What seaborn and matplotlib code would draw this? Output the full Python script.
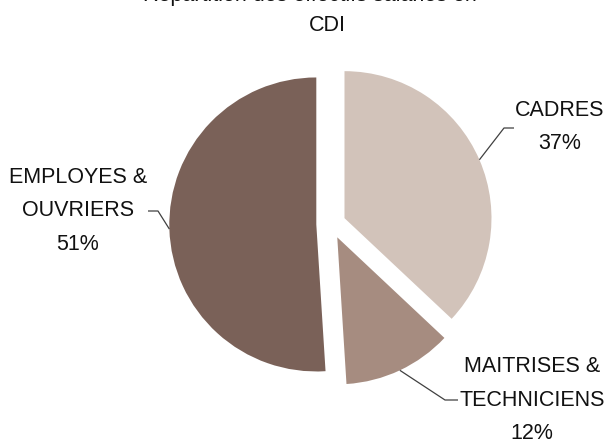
import numpy as np
import matplotlib
matplotlib.use("Agg")
import matplotlib.pyplot as plt
import seaborn as sns

categories = ["CADRES", "MAITRISES &\nTECHNICIENS", "EMPLOYES &\nOUVRIERS"]
shares = [37, 12, 51]
colors = ["#D2C3BA", "#A68C80", "#7A6158"]
title_lines = ["Répartition des effectifs salariés en", "CDI"]

sns.set_theme(style="white")
plt.rcParams["font.family"] = ["Liberation Sans Narrow", "Liberation Sans", "DejaVu Sans"]

W, H = 610, 444
fig = plt.figure(figsize=(W / 100, H / 100), dpi=100)
ax = fig.add_axes([0, 0, 1, 1])

# pixel geometry of the pie
cx, cy, rad = 331, 224, 147
explode = 0.10

wedges, _ = ax.pie(shares, colors=colors, startangle=90, counterclock=False,
                   explode=[explode] * len(shares), radius=1.0,
                   wedgeprops=dict(linewidth=0))
ax.set_xlim(-cx / rad, (W - cx) / rad)
ax.set_ylim(-(H - cy) / rad, cy / rad)
ax.set_aspect("auto")
ax.axis("off")


def px(x, y):
    return (x - cx) / rad, (cy - y) / rad


# label text positions (pixel) and leader elbows
label_pos = [(560, 127), (532, 400), (78, 211)]
elbows = [((504, 128), (514, 128)), ((445, 400), (458, 400)), ((158, 211), (148, 211))]

for w, cat, val, pos, elb in zip(wedges, categories, shares, label_pos, elbows):
    mid = np.deg2rad((w.theta1 + w.theta2) / 2)
    ox = explode * np.cos(mid)
    oy = explode * np.sin(mid)
    sx, sy = ox + 1.0 * np.cos(mid), oy + 1.0 * np.sin(mid)
    e1 = px(*elb[0])
    e2 = px(*elb[1])
    ax.plot([sx, e1[0], e2[0]], [sy, e1[1], e2[1]], color="#404040", lw=0.9,
            solid_capstyle="butt")
    lx, ly = px(*pos)
    ax.text(lx, ly, f"{cat}\n{val}%", ha="center", va="center", fontsize=15.5,
            linespacing=1.8, color="#111111")

# title (first line runs off the top edge)
t1 = px(310, 1.5)
t2 = px(327, 26)
ax.text(t1[0], t1[1], title_lines[0], ha="center", va="baseline", fontsize=15.5, color="#111111")
ax.text(t2[0], t2[1], title_lines[1], ha="center", va="center", fontsize=15.5, color="#111111")

fig.savefig("out.png", dpi=100, facecolor="white")
